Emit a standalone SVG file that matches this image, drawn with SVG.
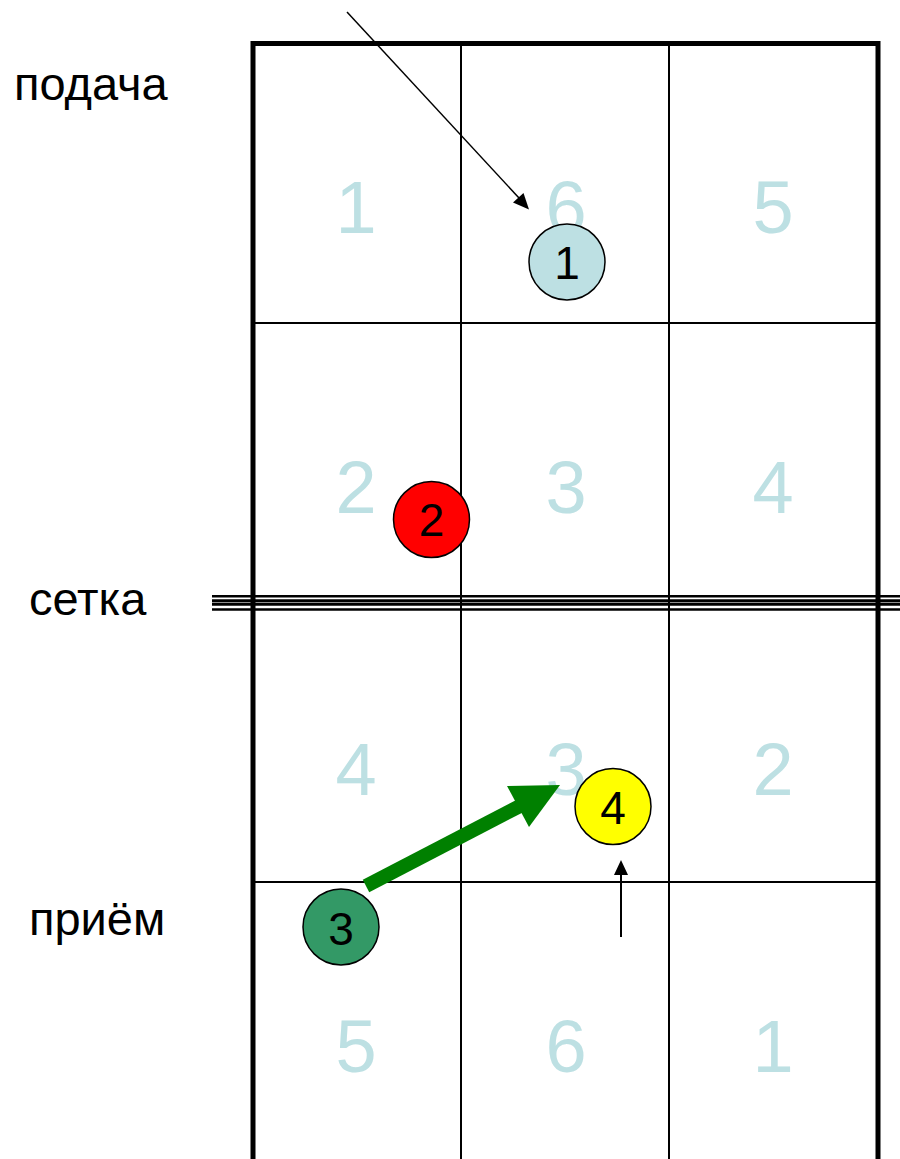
<svg xmlns="http://www.w3.org/2000/svg" width="900" height="1159" viewBox="0 0 900 1159">
<style>
.lbl{font-family:"Liberation Sans",Arial,sans-serif;font-size:47px;fill:#000}
.zone{font-family:"Liberation Sans",Arial,sans-serif;font-size:74px;fill:#bde0e3;text-anchor:middle}
.pnum{font-family:"Liberation Sans",Arial,sans-serif;font-size:46px;fill:#000;text-anchor:middle}
.thick{stroke:#000;stroke-width:5;fill:none}
.thin{stroke:#000;stroke-width:2;fill:none}
.net{stroke:#000;fill:none}
.player{stroke:#000;stroke-width:1.5}
</style>
<rect width="900" height="1159" fill="#fff"/>
<g id="court">
<line class="thin" x1="461" y1="43" x2="461" y2="1159"/>
<line class="thin" x1="669" y1="43" x2="669" y2="1159"/>
<line class="thin" x1="253" y1="323" x2="878" y2="323"/>
<line class="thin" x1="253" y1="882" x2="878" y2="882"/>
<path class="thick" d="M253 1159 V43.5 H878 V1159"/>
</g>
<g id="net">
<line class="net" stroke-width="2.6" x1="212" y1="596.2" x2="900" y2="596.2"/>
<line class="net" stroke-width="3" x1="212" y1="600.8" x2="900" y2="600.8"/>
<line class="net" stroke-width="3" x1="212" y1="604.2" x2="900" y2="604.2"/>
<line class="net" stroke-width="2.6" x1="212" y1="609.5" x2="900" y2="609.5"/>
</g>
<g id="labels">
<text class="lbl" x="14" y="100">подача</text>
<text class="lbl" x="29" y="615">сетка</text>
<text class="lbl" x="29" y="935">приём</text>
</g>
<g id="zones">
<text class="zone" x="356" y="233">1</text>
<text class="zone" x="566" y="233">6</text>
<text class="zone" x="773" y="233">5</text>
<text class="zone" x="356" y="513">2</text>
<text class="zone" x="566" y="513">3</text>
<text class="zone" x="773" y="513">4</text>
<text class="zone" x="356" y="795">4</text>
<text class="zone" x="566" y="795">3</text>
<text class="zone" x="773" y="795">2</text>
<text class="zone" x="356" y="1072">5</text>
<text class="zone" x="566" y="1072">6</text>
<text class="zone" x="773" y="1072">1</text>
</g>
<g id="connectors">
<line x1="347" y1="12" x2="519" y2="198" stroke="#000" stroke-width="1.5"/>
<polygon points="529,209.5 513,202.5 523.5,193" fill="#000"/>
<line x1="366" y1="886" x2="520" y2="806" stroke="#008000" stroke-width="14"/>
<polygon points="560,785 507,786 529,827" fill="#008000"/>
<line x1="621" y1="937" x2="621" y2="872" stroke="#000" stroke-width="2"/>
<polygon points="621,860 614,875 628,875" fill="#000"/>
</g>
<g id="player1">
<circle class="player" cx="567" cy="262" r="38" fill="#bde0e3"/>
<text class="pnum" x="567" y="279">1</text>
</g>
<g id="player2">
<circle class="player" cx="431.5" cy="519.5" r="38" fill="#ff0000"/>
<text class="pnum" x="431.5" y="536">2</text>
</g>
<g id="player3">
<circle class="player" cx="341" cy="927" r="38" fill="#339966"/>
<text class="pnum" x="341" y="944.5">3</text>
</g>
<g id="player4">
<circle class="player" cx="613" cy="806.5" r="38" fill="#ffff00"/>
<text class="pnum" x="613" y="823.5">4</text>
</g>
</svg>
